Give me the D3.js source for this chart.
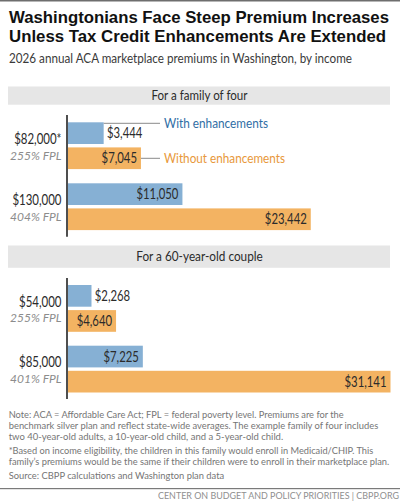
<!DOCTYPE html>
<html><head><meta charset="utf-8">
<script src="https://cdn.jsdelivr.net/npm/d3@7"></script>
<style>html,body{margin:0;padding:0;background:#fff;overflow:hidden}svg{display:block}text{font-family:Lato,sans-serif}</style>
</head><body><svg id="c" width="400" height="501"></svg>
<script>
const title = ["Washingtonians Face Steep Premium Increases","Unless Tax Credit Enhancements Are Extended"];
const subtitle = "2026 annual ACA marketplace premiums in Washington, by income";
const panels = ["For a family of four","For a 60-year-old couple"];
const incomes = [["$82,000*","$130,000"],["$54,000","$85,000"]];
const fpl = [["255% FPL","404% FPL"],["255% FPL","401% FPL"]];
const withEnh = [[3444,11050],[2268,7225]];
const withoutEnh = [[7045,23442],[4640,31141]];
const legend = ["With enhancements","Without enhancements"];
const notes = [
 "Note: ACA = Affordable Care Act; FPL = federal poverty level. Premiums are for the",
 "benchmark silver plan and reflect state-wide averages. The example family of four includes",
 "two 40-year-old adults, a 10-year-old child, and a 5-year-old child.",
 "*Based on income eligibility, the children in this family would enroll in Medicaid/CHIP. This",
 "family’s premiums would be the same if their children were to enroll in their marketplace plan.",
 "Source: CBPP calculations and Washington plan data"];
const credit = "CENTER ON BUDGET AND POLICY PRIORITIES | CBPP.ORG";

const BLUE="#86b0d4",ORANGE="#f3b362",DARK="#2b2b2b",GREY="#8c8c8c";
const svg=d3.select("#c");
const x=d3.scaleLinear().domain([0,31141]).range([68,390.5]);
const fmt=v=>"$"+d3.format(",")(v);
// squeeze a text to a target width (the reference face is narrower than the installed ones)
const fitW=(s,w)=>s.attr("textLength",w).attr("lengthAdjust","spacingAndGlyphs");
const squeeze=(s,f)=>s.each(function(){const n=d3.select(this);fitW(n,this.getComputedTextLength()*f);});

svg.append("rect").attr("width",400).attr("height",1.5).attr("fill","#6e6e6e");
svg.selectAll(".t").data(title).join("text").attr("x",9).attr("y",(d,i)=>[22.5,41.5][i])
  .style("font-family","'Liberation Sans'")
  .attr("font-weight",700).attr("font-size",16.7).attr("fill","#111").text(d=>d)
  .each(function(d,i){fitW(d3.select(this),[380,377][i]);});
fitW(svg.append("text").attr("x",9).attr("y",63).attr("font-size",13.2).attr("fill","#3a3a3a").text(subtitle),343);

const tops=[[122.3,183.3],[285,345.7]];
const bands=[[86.5,104.7],[245.5,267.8]];
const axisY=[[115,236.7],[278,399]];

panels.forEach((p,i)=>{
  svg.append("rect").attr("x",8).attr("width",382).attr("y",bands[i][0]).attr("height",bands[i][1]-bands[i][0]).attr("fill","#e6e6e6");
  fitW(svg.append("text").attr("x",199.5).attr("y",(bands[i][0]+bands[i][1])/2+4.7).attr("text-anchor","middle")
    .attr("font-size",14).attr("fill",DARK).text(p),[96,126.5][i]);
  incomes[i].forEach((inc,j)=>{
    const y0=tops[i][j];
    const rows=[{v:withEnh[i][j],c:BLUE,y:y0},{v:withoutEnh[i][j],c:ORANGE,y:y0+25.1}];
    rows.forEach((r)=>{
      svg.append("rect").attr("x",x(0)).attr("y",r.y).attr("width",x(r.v)-x(0)).attr("height",21.7).attr("fill",r.c);
      const outside=(r.v===3444||r.v===2268);
      squeeze(svg.append("text").attr("x",outside?x(r.v)+3.3:x(r.v)-4).attr("y",r.y+16)
        .attr("text-anchor",outside?"start":"end").attr("font-size",14.5).attr("fill",DARK).text(fmt(r.v)),0.78);
    });
    squeeze(svg.append("text").attr("x",61.5).attr("y",y0+21.7).attr("text-anchor","end")
      .attr("font-size",14.5).attr("fill",DARK).text(inc),0.79);
    svg.append("text").attr("x",61.5).attr("y",y0+37.2).attr("text-anchor","end")
      .attr("font-size",12).attr("font-style","italic").attr("fill",GREY).text(fpl[i][j]);
  });
  svg.append("line").attr("x1",67).attr("x2",67).attr("y1",axisY[i][0]).attr("y2",axisY[i][1]).attr("stroke","#222").attr("stroke-width",1.6);
});

// legend leaders
svg.append("line").attr("x1",x(withEnh[0][0])).attr("x2",160).attr("y1",123.3).attr("y2",123.3).attr("stroke","#8a8a8a").attr("stroke-width",1);
svg.append("line").attr("x1",x(withoutEnh[0][0])).attr("x2",160).attr("y1",158.3).attr("y2",158.3).attr("stroke","#8a8a8a").attr("stroke-width",1);
fitW(svg.append("text").attr("x",164).attr("y",127.5).attr("font-size",14).attr("fill","#2f6ea5").text(legend[0]),104);
fitW(svg.append("text").attr("x",164).attr("y",162.8).attr("font-size",14).attr("fill","#e8983a").text(legend[1]),121);

const ny=[418.3,429.3,440.2,454,465,479];
const nw=[335,369.5,274.5,364.5,380.5,215.5];
svg.selectAll(".n").data(notes).join("text").attr("x",8.7).attr("y",(d,i)=>ny[i])
  .attr("font-size",9.3).attr("fill","#757575").text(d=>d)
  .each(function(d,i){fitW(d3.select(this),nw[i]);});
svg.append("rect").attr("y",488).attr("width",400).attr("height",1.2).attr("fill","#7a7a7a");
fitW(svg.append("text").attr("x",399).attr("y",499).attr("text-anchor","end").attr("font-size",8.9).attr("fill","#8f8f8f").text(credit),241);
</script></body></html>
